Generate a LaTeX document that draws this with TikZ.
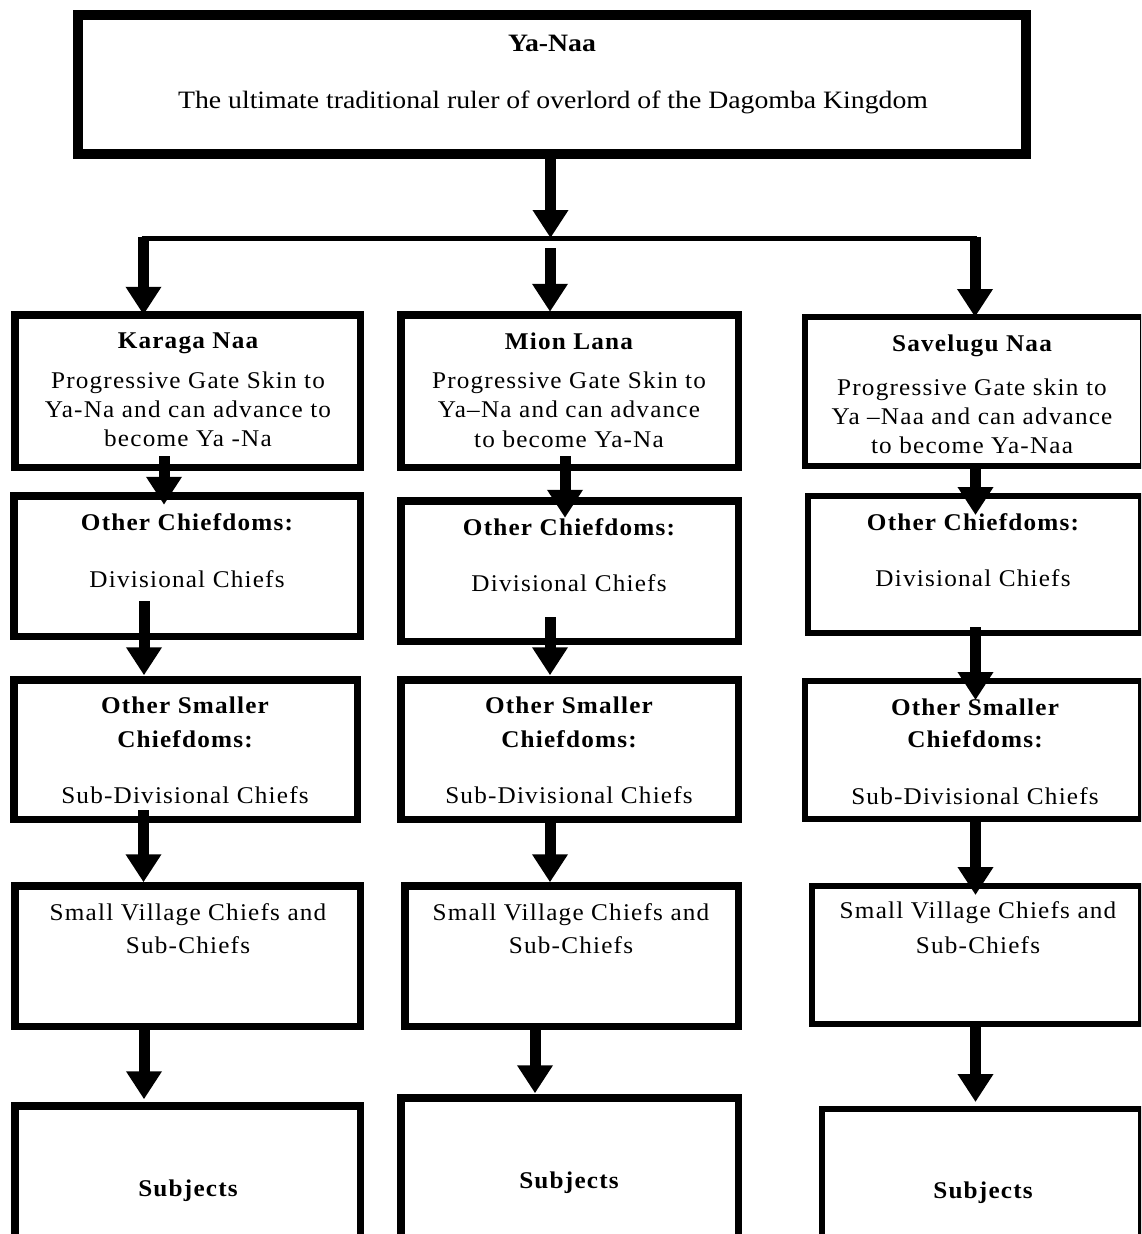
\documentclass[tikz,border=0pt]{standalone}
\usepackage{fontspec}
\setmainfont{Liberation Serif}
\newfontfamily\spacedserif{Liberation Serif}[LetterSpace=5,FakeStretch=1.05]
\newfontfamily\topserif{Liberation Serif}[FakeStretch=1.11]
\usetikzlibrary{arrows.meta,calc}
\newcommand\bodyfnt{\spacedserif\fontsize{24}{28}\selectfont}
\newcommand\titlefnt{\spacedserif\bfseries\fontsize{24}{28}\selectfont}
\newcommand\topfnt{\topserif\fontsize{25}{29}\selectfont}
\tikzset{
  box/.style={draw, line width=7.5pt, inner sep=0pt, outer sep=0pt},
  rbox/.style={box, line width=6pt},
  topbox/.style={box, line width=10pt},
  arr/.style={line width=11pt, -{Triangle[width=34pt,length=28pt]}},
  barline/.style={line width=5pt},
  lbl/.style={anchor=base, inner sep=0pt, font=\bodyfnt},
  blbl/.style={anchor=base, inner sep=0pt, font=\titlefnt},
}
\begin{document}
\begin{tikzpicture}[x=1pt,y=-1pt]
\path[use as bounding box] (0,0) rectangle (1141,1234);
\clip (0,0) rectangle (1141,1234);
% top box
\node[topbox, minimum width=948pt, minimum height=139pt] (top) at (552,84.5) {};
\node[anchor=base, inner sep=0pt, font=\topfnt\bfseries] (topt) at (552,51.5) {Ya-Naa};
\node[anchor=base, inner sep=0pt, font=\topfnt] (topb) at (553,108) {The ultimate traditional ruler of overlord of the Dagomba Kingdom};
% left column
\node[box, minimum width=345.5pt, minimum height=152.5pt] (k1) at (187.5,391) {};
\node[box, minimum width=346.5pt, minimum height=140.5pt] (o1) at (187,566) {};
\node[box, minimum width=343.5pt, minimum height=139.5pt] (sm1) at (185.5,749.5) {};
\node[box, minimum width=345.5pt, minimum height=140.5pt] (v1) at (187.5,956) {};
\node[box, minimum width=345.5pt, minimum height=150.5pt] (u1) at (187.5,1181) {};
% middle column
\node[box, minimum width=337.5pt, minimum height=152.5pt] (m1) at (569.5,391) {};
\node[box, minimum width=337.5pt, minimum height=140.5pt] (o2) at (569.5,571) {};
\node[box, minimum width=337.5pt, minimum height=139.5pt] (sm2) at (569.5,749.5) {};
\node[box, minimum width=333.5pt, minimum height=140.5pt] (v2) at (571.5,956) {};
\node[box, minimum width=337.5pt, minimum height=158.5pt] (u2) at (569.5,1177) {};
% right column
\node[rbox, minimum width=338pt, minimum height=149pt] (s1) at (974,391.5) {};
\node[rbox, minimum width=333pt, minimum height=137pt] (o3) at (974.5,564.5) {};
\node[rbox, minimum width=336pt, minimum height=138pt] (sm3) at (973,750) {};
\node[rbox, minimum width=329pt, minimum height=138pt] (v3) at (976.5,955) {};
\node[rbox, minimum width=319pt, minimum height=148pt] (u3) at (981.5,1183) {};
% texts left
\node[blbl] (k1t) at (188,348) {Karaga Naa};
\node[lbl] (k1a) at (188,388) {Progressive Gate Skin to};
\node[lbl] (k1b) at (188,417) {Ya-Na and can advance to};
\node[lbl] (k1c) at (188,446) {become Ya -Na};
\node[blbl] (o1t) at (187,530) {Other Chiefdoms:};
\node[lbl] (o1a) at (187,587) {Divisional Chiefs};
\node[blbl] (sm1t) at (185,713) {Other Smaller};
\node[blbl] (sm1u) at (185,747) {Chiefdoms:};
\node[lbl] (sm1a) at (185,803) {Sub-Divisional Chiefs};
\node[lbl] (v1a) at (188,920) {Small Village Chiefs and};
\node[lbl] (v1b) at (188,953) {Sub-Chiefs};
\node[blbl] (u1t) at (188,1196) {Subjects};
% texts middle
\node[blbl] (m1t) at (569,349) {Mion Lana};
\node[lbl] (m1a) at (569,388) {Progressive Gate Skin to};
\node[lbl] (m1b) at (569,417) {Ya–Na and can advance};
\node[lbl] (m1c) at (569,447) {to become Ya-Na};
\node[blbl] (o2t) at (569,535) {Other Chiefdoms:};
\node[lbl] (o2a) at (569,591) {Divisional Chiefs};
\node[blbl] (sm2t) at (569,713) {Other Smaller};
\node[blbl] (sm2u) at (569,747) {Chiefdoms:};
\node[lbl] (sm2a) at (569,803) {Sub-Divisional Chiefs};
\node[lbl] (v2a) at (571,920) {Small Village Chiefs and};
\node[lbl] (v2b) at (571,953) {Sub-Chiefs};
\node[blbl] (u2t) at (569,1188) {Subjects};
% texts right
\node[blbl] (s1t) at (972,351) {Savelugu Naa};
\node[lbl] (s1a) at (972,395) {Progressive Gate skin to};
\node[lbl] (s1b) at (972,424) {Ya –Naa and can advance};
\node[lbl] (s1c) at (972,453) {to become Ya-Naa};
\node[blbl] (o3t) at (973,530) {Other Chiefdoms:};
\node[lbl] (o3a) at (973,586) {Divisional Chiefs};
\node[blbl] (sm3t) at (975,715) {Other Smaller};
\node[blbl] (sm3u) at (975,747) {Chiefdoms:};
\node[lbl] (sm3a) at (975,804) {Sub-Divisional Chiefs};
\node[lbl] (v3a) at (978,918) {Small Village Chiefs and};
\node[lbl] (v3b) at (978,953) {Sub-Chiefs};
\node[blbl] (u3t) at (983,1198) {Subjects};
% branching connectors
\coordinate (bar) at (550.5,238);
\coordinate (barL) at (143.5,238.5);
\coordinate (barR) at (975,238.5);
\draw[barline] ($(barL)+(-2,0)$) -- ($(barR)+(2,0)$);
\draw[arr] (top.south -| bar) -- (bar);
\draw[arr] ($(barL)+(0,-2)$) -- (barL |- k1.north);
\draw[arr] ($(bar)+(-0.5,10)$) -- ($(m1.north)+(-19.5,-3)$);
\draw[arr] ($(barR)+(0,-2)$) -- (barR |- s1.north);
% left column arrows
\draw[arr] ($(k1.south)+(-23.5,-11)$) -- ($(o1.north)+(-23,9)$);
\draw[arr] ($(o1.south)+(-43,-35)$) -- ($(sm1.north)+(-41.5,-4.5)$);
\draw[arr] ($(sm1.south)+(-42,-9)$) -- ($(v1.north)+(-44,-3.5)$);
\draw[arr] ($(v1.south)+(-43.5,0)$) -- ($(u1.north)+(-43.5,-6.5)$);
% middle column arrows
\draw[arr] ($(m1.south)+(-4.5,-11)$) -- ($(o2.north)+(-4.5,17)$);
\draw[arr] ($(o2.south)+(-19.5,-24)$) -- ($(sm2.north)+(-19.5,-4.5)$);
\draw[arr] ($(sm2.south)+(-19.5,0)$) -- ($(v2.north)+(-21.5,-3.5)$);
\draw[arr] ($(v2.south)+(-36.5,0)$) -- ($(u2.north)+(-34.5,-4.5)$);
% right column arrows
\draw[arr] ($(s1.south)+(1.5,-1)$) -- ($(o3.north)+(1,19)$);
\draw[arr] ($(o3.south)+(1,-6)$) -- ($(sm3.north)+(2.5,19)$);
\draw[arr] ($(sm3.south)+(2.5,0)$) -- ($(v3.north)+(-1,9)$);
\draw[arr] ($(v3.south)+(-1,0)$) -- ($(u3.north)+(-6,-7)$);
\end{tikzpicture}
\end{document}
